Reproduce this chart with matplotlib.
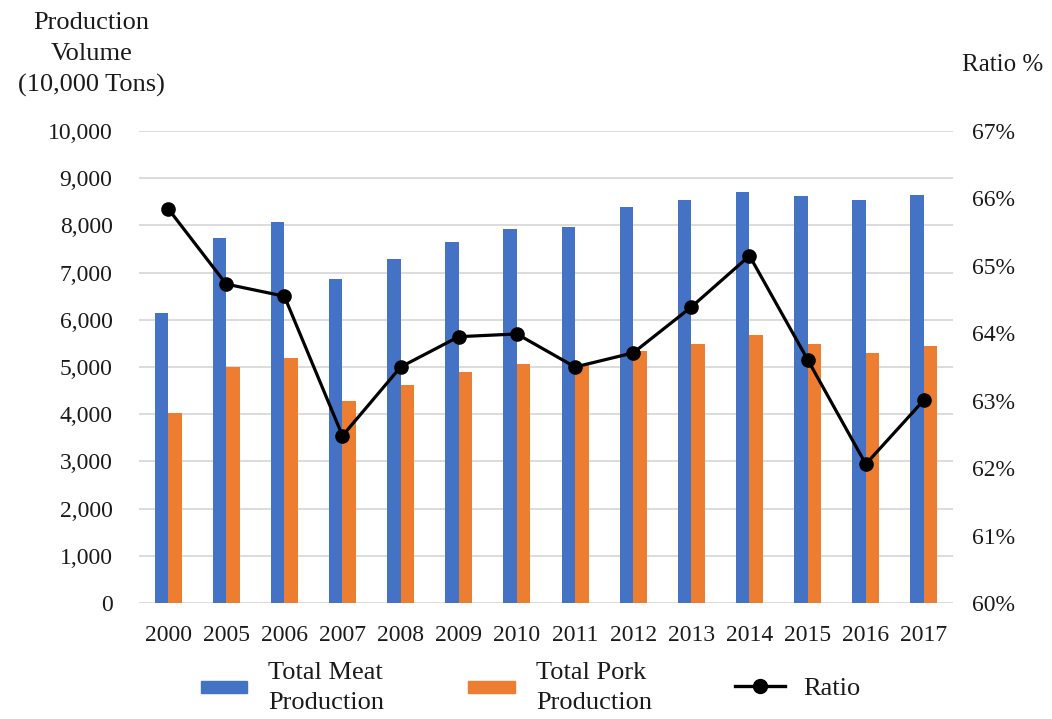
import matplotlib
matplotlib.use("Agg")
import matplotlib.pyplot as plt
import numpy as np
from matplotlib.lines import Line2D
from matplotlib.patches import Patch
from matplotlib.ticker import FuncFormatter

years = ["2000", "2005", "2006", "2007", "2008", "2009", "2010",
         "2011", "2012", "2013", "2014", "2015", "2016", "2017"]
meat = [6140, 7743, 8071, 6866, 7279, 7650, 7926,
        7965, 8387, 8535, 8707, 8625, 8540, 8654]
pork = [4031, 5010, 5197, 4288, 4621, 4891, 5071,
        5060, 5343, 5493, 5671, 5487, 5299, 5452]
ratio = [65.85, 64.73, 64.55, 62.48, 63.50, 63.95, 63.99,
         63.50, 63.71, 64.39, 65.15, 63.61, 62.06, 63.01]

BLUE = "#4472C4"
ORANGE = "#ED7D31"
GRID = "#d9d9d9"
FONT = "Liberation Serif"
FS = 17
LFS = 19
TXT = "#1a1a1a"

plt.rcParams["font.family"] = FONT

fig = plt.figure(figsize=(10.52, 7.19), dpi=100)
ax = fig.add_axes([0.1321, 0.1613, 0.7738, 0.6565])

x = np.arange(len(years))
w = 0.232
ax.bar(x - w / 2, meat, width=w, color=BLUE, zorder=2)
ax.bar(x + w / 2, pork, width=w, color=ORANGE, zorder=2)

ax.set_xlim(-0.5, len(years) - 0.5)
ax.set_ylim(0, 10000)
ax.set_yticks(np.arange(0, 10001, 1000))
ax.yaxis.set_major_formatter(FuncFormatter(lambda v, p: f"{int(v):,}"))
ax.set_xticks(x)
ax.set_xticklabels(years)
ax.grid(axis="y", color=GRID, linewidth=1.3, zorder=0)
ax.set_axisbelow(True)
for s in ax.spines.values():
    s.set_visible(False)
ax.tick_params(axis="both", length=0, labelsize=FS, colors=TXT)
ax.tick_params(axis="y", pad=19)
ax.tick_params(axis="x", pad=16)

ax2 = ax.twinx()
ax2.plot(x, ratio, color="black", linewidth=2.3, marker="o",
         markersize=9.5, zorder=5)
ax2.set_ylim(60, 67)
ax2.set_yticks(np.arange(60, 68, 1))
ax2.yaxis.set_major_formatter(FuncFormatter(lambda v, p: f"{int(round(v))}%"))
for s in ax2.spines.values():
    s.set_visible(False)
ax2.tick_params(axis="y", length=0, labelsize=FS, colors=TXT, pad=14)

fig.text(0.087, 0.983, "Production\nVolume\n(10,000 Tons)", ha="center",
         va="top", fontsize=LFS, linespacing=1.52, color=TXT)
fig.text(0.953, 0.910, "Ratio %", ha="center", va="center",
         fontsize=18, color=TXT)

# legend entries placed individually along the bottom
entries = [
    (Patch(color=BLUE), "Total Meat\nProduction", 201, 1.74, 0.32, 0.8),
    (Patch(color=ORANGE), "Total Pork\nProduction", 468, 1.78, 0.32, 0.8),
    (Line2D([0], [0], color="black", linewidth=2.4, marker="o",
            markersize=10), "Ratio", 735, 1.9, 0.7, 0.68),
]
for handle, label, px, hl, hh, tp in entries:
    leg = fig.legend([handle], [label], loc="center left",
                     bbox_to_anchor=(px / 1052, 0.0431), frameon=False,
                     fontsize=LFS, handlelength=hl, handleheight=hh,
                     handletextpad=tp, borderpad=0, borderaxespad=0)
    for t in leg.get_texts():
        t.set_linespacing(1.5)
        t.set_color(TXT)

fig.savefig("out.png", dpi=100)
